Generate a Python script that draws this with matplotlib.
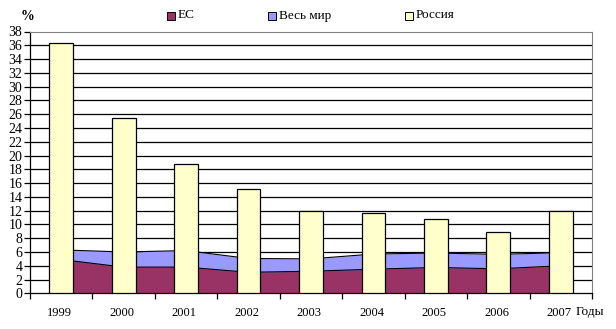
import matplotlib.pyplot as plt
import matplotlib.patches as patches
import numpy as np

plt.rcParams['font.family'] = ['Liberation Serif', 'DejaVu Serif']

years = ['1999', '2000', '2001', '2002', '2003', '2004', '2005', '2006', '2007']
eu = [4.9, 3.8, 3.8, 3.05, 3.2, 3.5, 3.75, 3.55, 4.0]
world = [6.3, 6.0, 6.2, 5.05, 5.0, 5.7, 5.85, 5.65, 5.9]
russia = [36.4, 25.5, 18.8, 15.1, 12.0, 11.7, 10.8, 8.9, 12.0]
series_names = ['ЕС', 'Весь мир', 'Россия']
series_colors = ['#993366', '#9999FF', '#FFFFCC']

fig = plt.figure(figsize=(6.16, 3.29), dpi=100)
ax = fig.add_axes([30/616, 1 - 293.3/329, (592 - 30)/616, (293.3 - 31.5)/329])

x = np.arange(len(years)) + 0.5

# areas (behind the columns)
ax.fill_between(x, 0, world, color=series_colors[1], zorder=2, lw=0)
ax.fill_between(x, 0, eu, color=series_colors[0], zorder=2, lw=0)
ax.plot(x, world, color='black', lw=0.8, zorder=3)
ax.plot(x, eu, color='black', lw=0.8, zorder=3)

# columns
ax.bar(x, russia, width=0.38, color=series_colors[2], edgecolor='black', linewidth=0.9, zorder=4)

ax.set_xlim(0, len(years))
ax.set_ylim(0, 38)
ax.set_yticks(range(0, 39, 2))
ax.tick_params(axis='y', labelsize=10, length=4, width=0.9, pad=1.5, direction='out')
ax.set_xticks(np.arange(len(years) + 1))
ax.set_xticklabels([])
ax.set_xticks(x - 0.03, minor=True)
ax.set_xticklabels(years, minor=True)
ax.tick_params(axis='x', which='major', length=4, width=0.9, direction='out')
ax.tick_params(axis='x', which='minor', length=0, labelsize=9, pad=10)

for v in range(2, 38, 2):
    ax.axhline(v, color='black', lw=0.9, zorder=1)

ax.spines['left'].set_linewidth(0.9)
ax.spines['bottom'].set_linewidth(0.9)
ax.spines['top'].set_color('#808080')
ax.spines['right'].set_color('#808080')

fig.text(27/616, 1 - 16/329, '%', fontsize=10, fontweight='bold', ha='center', va='center')
fig.text(576/616, 1 - 312.5/329, 'Годы', fontsize=9.5, ha='left', va='center')

# legend
leg_x = [167, 268, 405]
for name, color, lx in zip(series_names, series_colors, leg_x):
    fig.add_artist(patches.Rectangle((lx/616, 1 - 20/329), 8/616, 8/329,
                                     transform=fig.transFigure, facecolor=color,
                                     edgecolor='black', linewidth=0.7))
    fig.text((lx + 11)/616, 1 - 15.5/329, name, fontsize=9.5, ha='left', va='center')

fig.savefig('out.png', dpi=100)
